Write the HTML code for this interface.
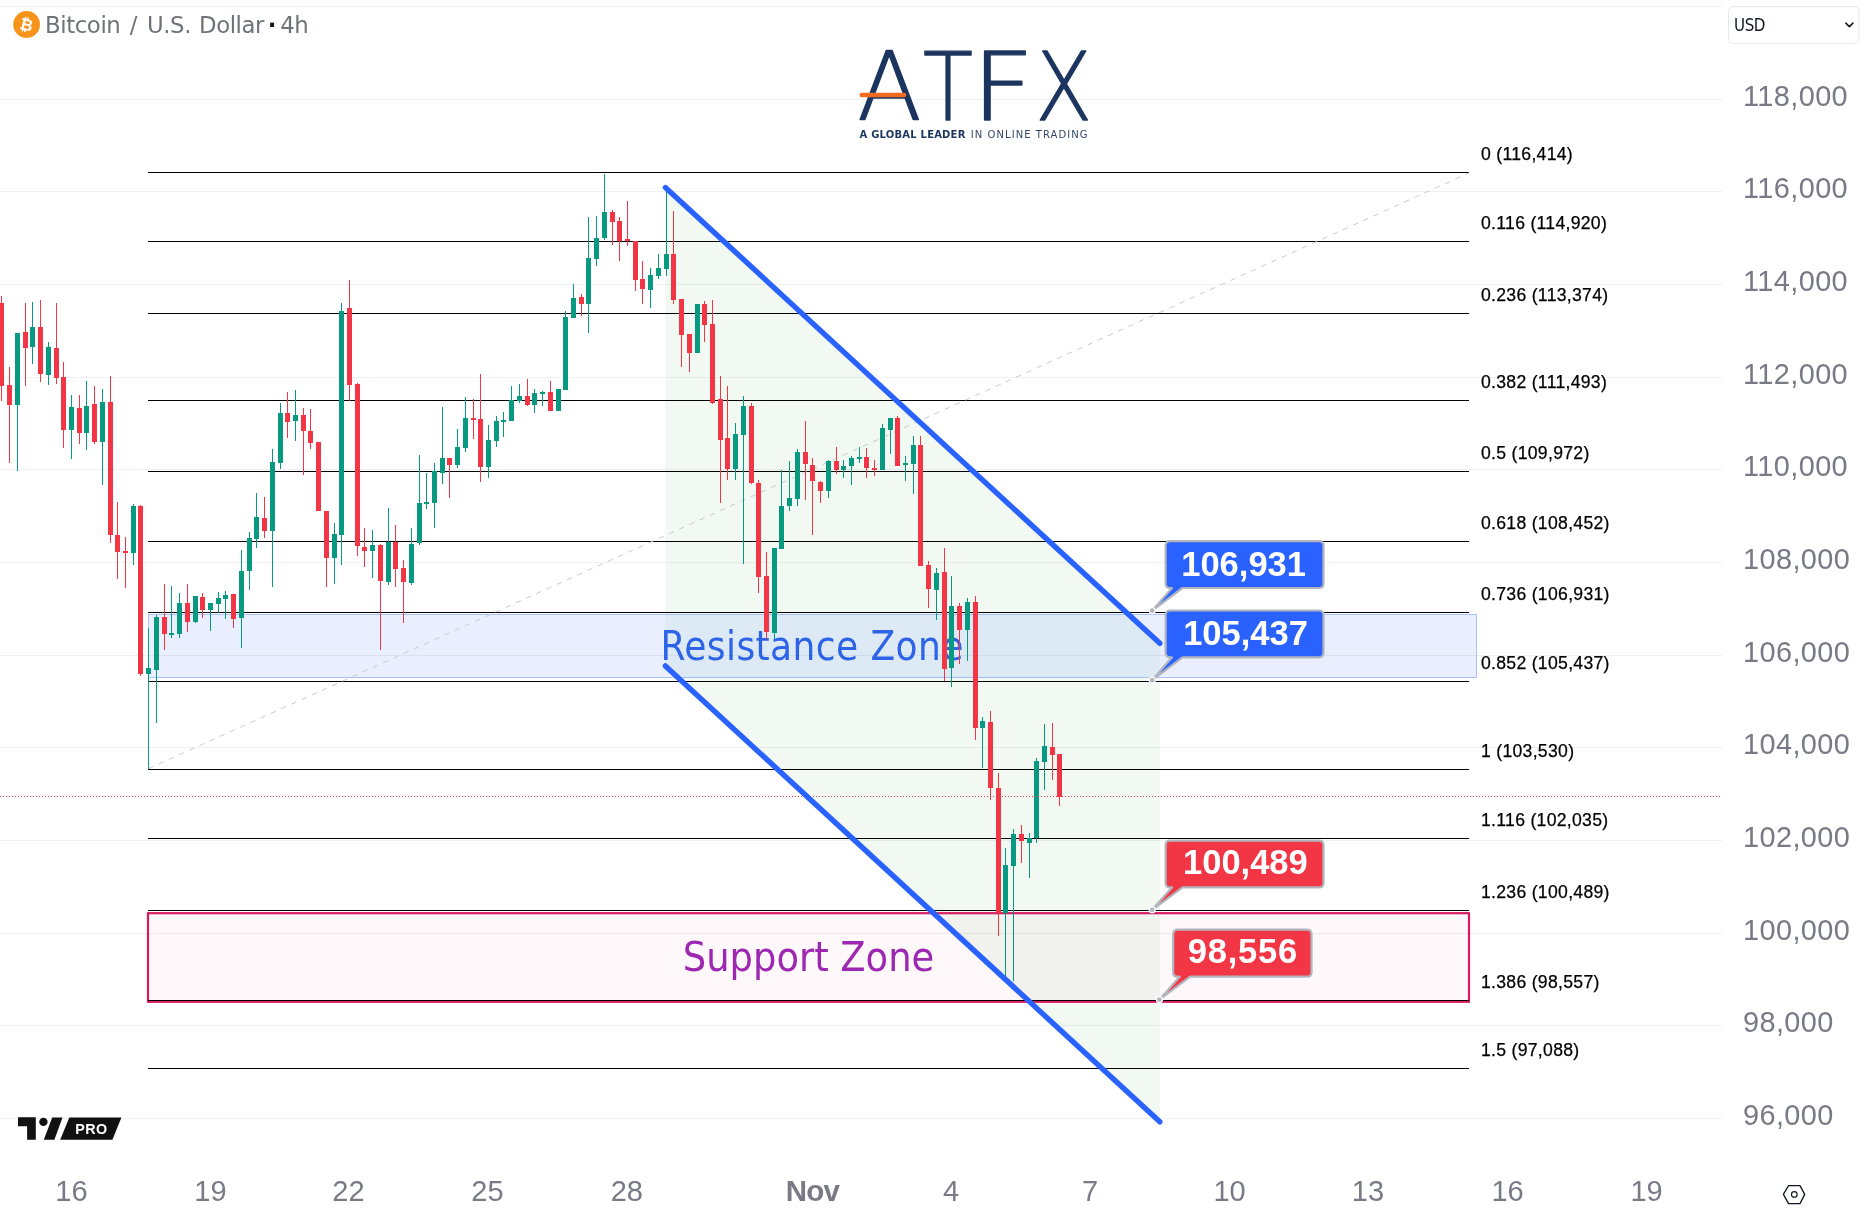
<!DOCTYPE html>
<html><head><meta charset="utf-8"><title>BTCUSD 4h</title>
<style>html,body{margin:0;padding:0;background:#fff;}svg{display:block;}</style></head>
<body><svg width="1863" height="1224" viewBox="0 0 1863 1224" style="will-change:transform">
<rect width="1863" height="1224" fill="#fff"/>
<rect x="0" y="1118" width="1722" height="1" fill="#eff0f2"/>
<rect x="0" y="1025" width="1722" height="1" fill="#eff0f2"/>
<rect x="0" y="933" width="1722" height="1" fill="#eff0f2"/>
<rect x="0" y="840" width="1722" height="1" fill="#eff0f2"/>
<rect x="0" y="747" width="1722" height="1" fill="#eff0f2"/>
<rect x="0" y="655" width="1722" height="1" fill="#eff0f2"/>
<rect x="0" y="562" width="1722" height="1" fill="#eff0f2"/>
<rect x="0" y="469" width="1722" height="1" fill="#eff0f2"/>
<rect x="0" y="377" width="1722" height="1" fill="#eff0f2"/>
<rect x="0" y="284" width="1722" height="1" fill="#eff0f2"/>
<rect x="0" y="191" width="1722" height="1" fill="#eff0f2"/>
<rect x="0" y="99" width="1722" height="1" fill="#eff0f2"/>
<rect x="0" y="6" width="1722" height="1" fill="#eff0f2"/>
<polygon points="665.4,187.5 1159.8,643.3 1159.8,1121.8 665.4,665.9" fill="rgba(76,175,80,0.07)"/>
<rect x="148.5" y="614.5" width="1328" height="63" fill="rgba(41,98,255,0.10)" stroke="rgba(41,98,255,0.35)" stroke-width="1"/>
<rect x="148" y="913.2" width="1321" height="88.6" fill="rgba(233,30,99,0.03)" stroke="#d81b60" stroke-width="2.2"/>
<text x="812.2" y="659.5" font-family="DejaVu Sans Condensed, DejaVu Sans, sans-serif" font-stretch="condensed" font-size="40" fill="#2d63e6" letter-spacing="0.43" text-anchor="middle">Resistance Zone</text>
<text x="808.5" y="971.2" font-family="DejaVu Sans Condensed, DejaVu Sans, sans-serif" font-stretch="condensed" font-size="41" fill="#9c27b0" text-anchor="middle">Support Zone</text>
<rect x="148" y="172" width="1321" height="1" fill="#000"/>
<rect x="148" y="241" width="1321" height="1" fill="#000"/>
<rect x="148" y="313" width="1321" height="1" fill="#000"/>
<rect x="148" y="400" width="1321" height="1" fill="#000"/>
<rect x="148" y="471" width="1321" height="1" fill="#000"/>
<rect x="148" y="541" width="1321" height="1" fill="#000"/>
<rect x="148" y="612" width="1321" height="1" fill="#000"/>
<rect x="148" y="681" width="1321" height="1" fill="#000"/>
<rect x="148" y="769" width="1321" height="1" fill="#000"/>
<rect x="148" y="838" width="1321" height="1" fill="#000"/>
<rect x="148" y="910" width="1321" height="1" fill="#000"/>
<rect x="148" y="1000" width="1321" height="1" fill="#000"/>
<rect x="148" y="1068" width="1321" height="1" fill="#000"/>
<line x1="148.4" y1="768.7" x2="1469" y2="172.9" stroke="#c8cad0" stroke-width="1" stroke-dasharray="5.4 5.8"/>
<rect x="1.0" y="296" width="1" height="105" fill="#f23645"/>
<rect x="-1.0" y="303" width="5" height="83" fill="#f23645"/>
<rect x="9.0" y="367" width="1" height="96" fill="#f23645"/>
<rect x="7.0" y="385" width="5" height="20" fill="#f23645"/>
<rect x="17.0" y="333" width="1" height="138" fill="#089981"/>
<rect x="15.0" y="333" width="5" height="72" fill="#089981"/>
<rect x="25.0" y="303" width="1" height="83" fill="#f23645"/>
<rect x="23.0" y="332" width="5" height="16" fill="#f23645"/>
<rect x="32.0" y="302" width="1" height="62" fill="#089981"/>
<rect x="30.0" y="327" width="5" height="20" fill="#089981"/>
<rect x="40.0" y="300" width="1" height="82" fill="#f23645"/>
<rect x="38.0" y="327" width="5" height="47" fill="#f23645"/>
<rect x="48.0" y="342" width="1" height="43" fill="#089981"/>
<rect x="46.0" y="347" width="5" height="28" fill="#089981"/>
<rect x="56.0" y="303" width="1" height="81" fill="#f23645"/>
<rect x="54.0" y="348" width="5" height="30" fill="#f23645"/>
<rect x="63.0" y="362" width="1" height="86" fill="#f23645"/>
<rect x="61.0" y="377" width="5" height="53" fill="#f23645"/>
<rect x="71.0" y="395" width="1" height="64" fill="#089981"/>
<rect x="69.0" y="407" width="5" height="23" fill="#089981"/>
<rect x="79.0" y="395" width="1" height="49" fill="#f23645"/>
<rect x="77.0" y="408" width="5" height="25" fill="#f23645"/>
<rect x="86.0" y="381" width="1" height="69" fill="#089981"/>
<rect x="84.0" y="406" width="5" height="27" fill="#089981"/>
<rect x="94.0" y="386" width="1" height="58" fill="#f23645"/>
<rect x="92.0" y="404" width="5" height="38" fill="#f23645"/>
<rect x="102.0" y="389" width="1" height="96" fill="#089981"/>
<rect x="100.0" y="402" width="5" height="40" fill="#089981"/>
<rect x="110.0" y="376" width="1" height="167" fill="#f23645"/>
<rect x="108.0" y="402" width="5" height="133" fill="#f23645"/>
<rect x="117.0" y="502" width="1" height="77" fill="#f23645"/>
<rect x="115.0" y="535" width="5" height="17" fill="#f23645"/>
<rect x="125.0" y="537" width="1" height="51" fill="#f23645"/>
<rect x="123.0" y="551" width="5" height="2" fill="#f23645"/>
<rect x="133.0" y="504" width="1" height="61" fill="#089981"/>
<rect x="131.0" y="506" width="5" height="47" fill="#089981"/>
<rect x="140.0" y="505" width="1" height="171" fill="#f23645"/>
<rect x="138.0" y="506" width="5" height="168" fill="#f23645"/>
<rect x="148.0" y="628" width="1" height="141" fill="#089981"/>
<rect x="146.0" y="668" width="5" height="6" fill="#089981"/>
<rect x="156.0" y="615" width="1" height="108" fill="#089981"/>
<rect x="154.0" y="617" width="5" height="53" fill="#089981"/>
<rect x="164.0" y="584" width="1" height="66" fill="#f23645"/>
<rect x="162.0" y="617" width="5" height="17" fill="#f23645"/>
<rect x="171.0" y="586" width="1" height="52" fill="#089981"/>
<rect x="169.0" y="633" width="5" height="2" fill="#089981"/>
<rect x="179.0" y="593" width="1" height="45" fill="#089981"/>
<rect x="177.0" y="603" width="5" height="31" fill="#089981"/>
<rect x="187.0" y="584" width="1" height="48" fill="#f23645"/>
<rect x="185.0" y="603" width="5" height="19" fill="#f23645"/>
<rect x="195.0" y="596" width="1" height="27" fill="#089981"/>
<rect x="193.0" y="596" width="5" height="26" fill="#089981"/>
<rect x="202.0" y="593" width="1" height="25" fill="#f23645"/>
<rect x="200.0" y="597" width="5" height="13" fill="#f23645"/>
<rect x="210.0" y="603" width="1" height="28" fill="#089981"/>
<rect x="208.0" y="603" width="5" height="7" fill="#089981"/>
<rect x="218.0" y="592" width="1" height="21" fill="#089981"/>
<rect x="216.0" y="598" width="5" height="6" fill="#089981"/>
<rect x="225.0" y="591" width="1" height="28" fill="#089981"/>
<rect x="223.0" y="595" width="5" height="4" fill="#089981"/>
<rect x="233.0" y="594" width="1" height="34" fill="#f23645"/>
<rect x="231.0" y="594" width="5" height="25" fill="#f23645"/>
<rect x="241.0" y="550" width="1" height="98" fill="#089981"/>
<rect x="239.0" y="571" width="5" height="47" fill="#089981"/>
<rect x="249.0" y="532" width="1" height="58" fill="#089981"/>
<rect x="247.0" y="538" width="5" height="33" fill="#089981"/>
<rect x="256.0" y="493" width="1" height="55" fill="#089981"/>
<rect x="254.0" y="517" width="5" height="22" fill="#089981"/>
<rect x="264.0" y="497" width="1" height="41" fill="#f23645"/>
<rect x="262.0" y="518" width="5" height="13" fill="#f23645"/>
<rect x="272.0" y="449" width="1" height="138" fill="#089981"/>
<rect x="270.0" y="462" width="5" height="69" fill="#089981"/>
<rect x="280.0" y="403" width="1" height="66" fill="#089981"/>
<rect x="278.0" y="413" width="5" height="50" fill="#089981"/>
<rect x="287.0" y="392" width="1" height="46" fill="#f23645"/>
<rect x="285.0" y="413" width="5" height="9" fill="#f23645"/>
<rect x="295.0" y="390" width="1" height="51" fill="#089981"/>
<rect x="293.0" y="415" width="5" height="6" fill="#089981"/>
<rect x="303.0" y="408" width="1" height="67" fill="#f23645"/>
<rect x="301.0" y="415" width="5" height="16" fill="#f23645"/>
<rect x="310.0" y="409" width="1" height="40" fill="#f23645"/>
<rect x="308.0" y="431" width="5" height="12" fill="#f23645"/>
<rect x="318.0" y="442" width="1" height="69" fill="#f23645"/>
<rect x="316.0" y="442" width="5" height="69" fill="#f23645"/>
<rect x="326.0" y="511" width="1" height="76" fill="#f23645"/>
<rect x="324.0" y="511" width="5" height="47" fill="#f23645"/>
<rect x="334.0" y="523" width="1" height="61" fill="#089981"/>
<rect x="332.0" y="534" width="5" height="24" fill="#089981"/>
<rect x="341.0" y="303" width="1" height="262" fill="#089981"/>
<rect x="339.0" y="311" width="5" height="224" fill="#089981"/>
<rect x="349.0" y="280" width="1" height="121" fill="#f23645"/>
<rect x="347.0" y="308" width="5" height="77" fill="#f23645"/>
<rect x="357.0" y="383" width="1" height="173" fill="#f23645"/>
<rect x="355.0" y="384" width="5" height="162" fill="#f23645"/>
<rect x="364.0" y="528" width="1" height="39" fill="#f23645"/>
<rect x="362.0" y="547" width="5" height="4" fill="#f23645"/>
<rect x="372.0" y="530" width="1" height="48" fill="#089981"/>
<rect x="370.0" y="545" width="5" height="6" fill="#089981"/>
<rect x="380.0" y="544" width="1" height="106" fill="#f23645"/>
<rect x="378.0" y="545" width="5" height="36" fill="#f23645"/>
<rect x="388.0" y="508" width="1" height="77" fill="#089981"/>
<rect x="386.0" y="542" width="5" height="40" fill="#089981"/>
<rect x="395.0" y="525" width="1" height="62" fill="#f23645"/>
<rect x="393.0" y="542" width="5" height="27" fill="#f23645"/>
<rect x="403.0" y="560" width="1" height="63" fill="#f23645"/>
<rect x="401.0" y="568" width="5" height="14" fill="#f23645"/>
<rect x="411.0" y="528" width="1" height="57" fill="#089981"/>
<rect x="409.0" y="544" width="5" height="39" fill="#089981"/>
<rect x="419.0" y="455" width="1" height="90" fill="#089981"/>
<rect x="417.0" y="503" width="5" height="40" fill="#089981"/>
<rect x="426.0" y="473" width="1" height="36" fill="#089981"/>
<rect x="424.0" y="502" width="5" height="2" fill="#089981"/>
<rect x="434.0" y="463" width="1" height="65" fill="#089981"/>
<rect x="432.0" y="471" width="5" height="32" fill="#089981"/>
<rect x="442.0" y="407" width="1" height="77" fill="#089981"/>
<rect x="440.0" y="458" width="5" height="15" fill="#089981"/>
<rect x="449.0" y="458" width="1" height="40" fill="#f23645"/>
<rect x="447.0" y="458" width="5" height="7" fill="#f23645"/>
<rect x="457.0" y="429" width="1" height="39" fill="#089981"/>
<rect x="455.0" y="447" width="5" height="18" fill="#089981"/>
<rect x="465.0" y="397" width="1" height="55" fill="#089981"/>
<rect x="463.0" y="418" width="5" height="30" fill="#089981"/>
<rect x="473.0" y="399" width="1" height="40" fill="#f23645"/>
<rect x="471.0" y="418" width="5" height="2" fill="#f23645"/>
<rect x="480.0" y="374" width="1" height="108" fill="#f23645"/>
<rect x="478.0" y="419" width="5" height="48" fill="#f23645"/>
<rect x="488.0" y="425" width="1" height="53" fill="#089981"/>
<rect x="486.0" y="440" width="5" height="27" fill="#089981"/>
<rect x="496.0" y="416" width="1" height="31" fill="#089981"/>
<rect x="494.0" y="421" width="5" height="20" fill="#089981"/>
<rect x="503.0" y="412" width="1" height="25" fill="#089981"/>
<rect x="501.0" y="420" width="5" height="2" fill="#089981"/>
<rect x="511.0" y="386" width="1" height="35" fill="#089981"/>
<rect x="509.0" y="400" width="5" height="21" fill="#089981"/>
<rect x="519.0" y="384" width="1" height="19" fill="#089981"/>
<rect x="517.0" y="396" width="5" height="5" fill="#089981"/>
<rect x="527.0" y="379" width="1" height="27" fill="#f23645"/>
<rect x="525.0" y="396" width="5" height="9" fill="#f23645"/>
<rect x="534.0" y="389" width="1" height="24" fill="#089981"/>
<rect x="532.0" y="393" width="5" height="12" fill="#089981"/>
<rect x="542.0" y="391" width="1" height="15" fill="#089981"/>
<rect x="540.0" y="392" width="5" height="2" fill="#089981"/>
<rect x="550.0" y="381" width="1" height="30" fill="#f23645"/>
<rect x="548.0" y="392" width="5" height="19" fill="#f23645"/>
<rect x="558.0" y="389" width="1" height="22" fill="#089981"/>
<rect x="556.0" y="389" width="5" height="22" fill="#089981"/>
<rect x="565.0" y="311" width="1" height="79" fill="#089981"/>
<rect x="563.0" y="317" width="5" height="73" fill="#089981"/>
<rect x="573.0" y="284" width="1" height="34" fill="#089981"/>
<rect x="571.0" y="298" width="5" height="20" fill="#089981"/>
<rect x="581.0" y="294" width="1" height="22" fill="#f23645"/>
<rect x="579.0" y="297" width="5" height="7" fill="#f23645"/>
<rect x="588.0" y="217" width="1" height="116" fill="#089981"/>
<rect x="586.0" y="258" width="5" height="46" fill="#089981"/>
<rect x="596.0" y="216" width="1" height="50" fill="#089981"/>
<rect x="594.0" y="238" width="5" height="21" fill="#089981"/>
<rect x="604.0" y="174" width="1" height="66" fill="#089981"/>
<rect x="602.0" y="212" width="5" height="26" fill="#089981"/>
<rect x="612.0" y="210" width="1" height="35" fill="#f23645"/>
<rect x="610.0" y="212" width="5" height="10" fill="#f23645"/>
<rect x="619.0" y="217" width="1" height="44" fill="#f23645"/>
<rect x="617.0" y="221" width="5" height="20" fill="#f23645"/>
<rect x="627.0" y="201" width="1" height="45" fill="#f23645"/>
<rect x="625.0" y="239" width="5" height="2" fill="#f23645"/>
<rect x="635.0" y="241" width="1" height="50" fill="#f23645"/>
<rect x="633.0" y="241" width="5" height="39" fill="#f23645"/>
<rect x="642.0" y="261" width="1" height="43" fill="#f23645"/>
<rect x="640.0" y="279" width="5" height="10" fill="#f23645"/>
<rect x="650.0" y="268" width="1" height="40" fill="#089981"/>
<rect x="648.0" y="275" width="5" height="15" fill="#089981"/>
<rect x="658.0" y="254" width="1" height="25" fill="#089981"/>
<rect x="656.0" y="268" width="5" height="8" fill="#089981"/>
<rect x="666.0" y="188" width="1" height="88" fill="#089981"/>
<rect x="664.0" y="254" width="5" height="15" fill="#089981"/>
<rect x="673.0" y="211" width="1" height="93" fill="#f23645"/>
<rect x="671.0" y="254" width="5" height="46" fill="#f23645"/>
<rect x="681.0" y="299" width="1" height="68" fill="#f23645"/>
<rect x="679.0" y="299" width="5" height="36" fill="#f23645"/>
<rect x="689.0" y="334" width="1" height="38" fill="#f23645"/>
<rect x="687.0" y="334" width="5" height="19" fill="#f23645"/>
<rect x="697.0" y="304" width="1" height="49" fill="#089981"/>
<rect x="695.0" y="304" width="5" height="49" fill="#089981"/>
<rect x="704.0" y="301" width="1" height="41" fill="#f23645"/>
<rect x="702.0" y="304" width="5" height="21" fill="#f23645"/>
<rect x="712.0" y="300" width="1" height="104" fill="#f23645"/>
<rect x="710.0" y="324" width="5" height="79" fill="#f23645"/>
<rect x="720.0" y="376" width="1" height="127" fill="#f23645"/>
<rect x="718.0" y="399" width="5" height="41" fill="#f23645"/>
<rect x="727.0" y="386" width="1" height="94" fill="#f23645"/>
<rect x="725.0" y="438" width="5" height="31" fill="#f23645"/>
<rect x="735.0" y="423" width="1" height="57" fill="#089981"/>
<rect x="733.0" y="434" width="5" height="35" fill="#089981"/>
<rect x="743.0" y="396" width="1" height="168" fill="#089981"/>
<rect x="741.0" y="406" width="5" height="29" fill="#089981"/>
<rect x="751.0" y="403" width="1" height="81" fill="#f23645"/>
<rect x="749.0" y="406" width="5" height="77" fill="#f23645"/>
<rect x="758.0" y="480" width="1" height="113" fill="#f23645"/>
<rect x="756.0" y="483" width="5" height="94" fill="#f23645"/>
<rect x="766.0" y="552" width="1" height="87" fill="#f23645"/>
<rect x="764.0" y="576" width="5" height="56" fill="#f23645"/>
<rect x="774.0" y="548" width="1" height="91" fill="#089981"/>
<rect x="772.0" y="548" width="5" height="85" fill="#089981"/>
<rect x="781.0" y="470" width="1" height="79" fill="#089981"/>
<rect x="779.0" y="506" width="5" height="43" fill="#089981"/>
<rect x="789.0" y="461" width="1" height="50" fill="#089981"/>
<rect x="787.0" y="498" width="5" height="8" fill="#089981"/>
<rect x="797.0" y="449" width="1" height="57" fill="#089981"/>
<rect x="795.0" y="452" width="5" height="47" fill="#089981"/>
<rect x="805.0" y="421" width="1" height="79" fill="#f23645"/>
<rect x="803.0" y="452" width="5" height="12" fill="#f23645"/>
<rect x="812.0" y="458" width="1" height="77" fill="#f23645"/>
<rect x="810.0" y="465" width="5" height="16" fill="#f23645"/>
<rect x="820.0" y="481" width="1" height="22" fill="#f23645"/>
<rect x="818.0" y="482" width="5" height="9" fill="#f23645"/>
<rect x="828.0" y="460" width="1" height="38" fill="#089981"/>
<rect x="826.0" y="461" width="5" height="30" fill="#089981"/>
<rect x="836.0" y="447" width="1" height="27" fill="#f23645"/>
<rect x="834.0" y="461" width="5" height="9" fill="#f23645"/>
<rect x="843.0" y="460" width="1" height="18" fill="#089981"/>
<rect x="841.0" y="466" width="5" height="4" fill="#089981"/>
<rect x="851.0" y="456" width="1" height="29" fill="#089981"/>
<rect x="849.0" y="458" width="5" height="8" fill="#089981"/>
<rect x="859.0" y="447" width="1" height="16" fill="#089981"/>
<rect x="857.0" y="457" width="5" height="2" fill="#089981"/>
<rect x="866.0" y="448" width="1" height="30" fill="#f23645"/>
<rect x="864.0" y="457" width="5" height="11" fill="#f23645"/>
<rect x="874.0" y="460" width="1" height="16" fill="#f23645"/>
<rect x="872.0" y="468" width="5" height="2" fill="#f23645"/>
<rect x="882.0" y="424" width="1" height="46" fill="#089981"/>
<rect x="880.0" y="428" width="5" height="42" fill="#089981"/>
<rect x="890.0" y="418" width="1" height="36" fill="#089981"/>
<rect x="888.0" y="418" width="5" height="12" fill="#089981"/>
<rect x="897.0" y="416" width="1" height="50" fill="#f23645"/>
<rect x="895.0" y="418" width="5" height="48" fill="#f23645"/>
<rect x="905.0" y="456" width="1" height="25" fill="#089981"/>
<rect x="903.0" y="463" width="5" height="2" fill="#089981"/>
<rect x="913.0" y="436" width="1" height="58" fill="#089981"/>
<rect x="911.0" y="445" width="5" height="19" fill="#089981"/>
<rect x="920.0" y="436" width="1" height="130" fill="#f23645"/>
<rect x="918.0" y="445" width="5" height="121" fill="#f23645"/>
<rect x="928.0" y="561" width="1" height="47" fill="#f23645"/>
<rect x="926.0" y="565" width="5" height="24" fill="#f23645"/>
<rect x="936.0" y="568" width="1" height="52" fill="#089981"/>
<rect x="934.0" y="573" width="5" height="17" fill="#089981"/>
<rect x="944.0" y="548" width="1" height="133" fill="#f23645"/>
<rect x="942.0" y="572" width="5" height="97" fill="#f23645"/>
<rect x="951.0" y="576" width="1" height="111" fill="#089981"/>
<rect x="949.0" y="606" width="5" height="62" fill="#089981"/>
<rect x="959.0" y="603" width="1" height="61" fill="#f23645"/>
<rect x="957.0" y="606" width="5" height="24" fill="#f23645"/>
<rect x="967.0" y="598" width="1" height="63" fill="#089981"/>
<rect x="965.0" y="602" width="5" height="28" fill="#089981"/>
<rect x="975.0" y="596" width="1" height="144" fill="#f23645"/>
<rect x="973.0" y="602" width="5" height="126" fill="#f23645"/>
<rect x="982.0" y="717" width="1" height="51" fill="#089981"/>
<rect x="980.0" y="721" width="5" height="7" fill="#089981"/>
<rect x="990.0" y="711" width="1" height="89" fill="#f23645"/>
<rect x="988.0" y="722" width="5" height="66" fill="#f23645"/>
<rect x="998.0" y="773" width="1" height="163" fill="#f23645"/>
<rect x="996.0" y="788" width="5" height="125" fill="#f23645"/>
<rect x="1005.0" y="848" width="1" height="135" fill="#089981"/>
<rect x="1003.0" y="865" width="5" height="48" fill="#089981"/>
<rect x="1013.0" y="829" width="1" height="152" fill="#089981"/>
<rect x="1011.0" y="834" width="5" height="32" fill="#089981"/>
<rect x="1021.0" y="825" width="1" height="38" fill="#f23645"/>
<rect x="1019.0" y="834" width="5" height="7" fill="#f23645"/>
<rect x="1029.0" y="833" width="1" height="45" fill="#089981"/>
<rect x="1027.0" y="838" width="5" height="5" fill="#089981"/>
<rect x="1036.0" y="758" width="1" height="85" fill="#089981"/>
<rect x="1034.0" y="761" width="5" height="77" fill="#089981"/>
<rect x="1044.0" y="724" width="1" height="66" fill="#089981"/>
<rect x="1042.0" y="746" width="5" height="16" fill="#089981"/>
<rect x="1052.0" y="723" width="1" height="57" fill="#f23645"/>
<rect x="1050.0" y="747" width="5" height="8" fill="#f23645"/>
<rect x="1059.0" y="754" width="1" height="52" fill="#f23645"/>
<rect x="1057.0" y="754" width="5" height="43" fill="#f23645"/>
<line x1="0" y1="796.5" x2="1722" y2="796.5" stroke="#f23645" stroke-width="1" stroke-dasharray="1 2"/>
<line x1="665.4" y1="187.5" x2="1159.8" y2="643.3" stroke="#2962ff" stroke-width="5.4" stroke-linecap="round"/>
<line x1="665.4" y1="665.9" x2="1159.8" y2="1121.8" stroke="#2962ff" stroke-width="5.4" stroke-linecap="round"/>
<path d="M1170.1,541.2 H1319.0 Q1323.5,541.2 1323.5,545.7 V583.5 Q1323.5,588.0 1319.0,588.0 H1182.5 L1152.2,610.6 L1172.0,588.0 H1170.1 Q1165.6,588.0 1165.6,583.5 V545.7 Q1165.6,541.2 1170.1,541.2 Z" fill="#2962ff" stroke="#b2b5be" stroke-width="2.2" stroke-linejoin="round"/>
<circle cx="1152.2" cy="610.6" r="3" fill="#b2b5be" stroke="#fff" stroke-width="1.2"/>
<text x="1243.6" y="575.8" font-family="Liberation Sans, sans-serif" font-weight="bold" font-size="34.5" letter-spacing="0" fill="#fff" text-anchor="middle">106,931</text>
<path d="M1170.1,610.5 H1319.0 Q1323.5,610.5 1323.5,615.0 V652.8 Q1323.5,657.3 1319.0,657.3 H1182.5 L1152.2,680.2 L1172.0,657.3 H1170.1 Q1165.6,657.3 1165.6,652.8 V615.0 Q1165.6,610.5 1170.1,610.5 Z" fill="#2962ff" stroke="#b2b5be" stroke-width="2.2" stroke-linejoin="round"/>
<circle cx="1152.2" cy="680.2" r="3" fill="#b2b5be" stroke="#fff" stroke-width="1.2"/>
<text x="1245.5" y="645" font-family="Liberation Sans, sans-serif" font-weight="bold" font-size="34.5" letter-spacing="0" fill="#fff" text-anchor="middle">105,437</text>
<path d="M1170.1,840.7 H1319.0 Q1323.5,840.7 1323.5,845.2 V882.9 Q1323.5,887.4 1319.0,887.4 H1182.5 L1152.2,909.8 L1172.0,887.4 H1170.1 Q1165.6,887.4 1165.6,882.9 V845.2 Q1165.6,840.7 1170.1,840.7 Z" fill="#f23645" stroke="#b2b5be" stroke-width="2.2" stroke-linejoin="round"/>
<circle cx="1152.2" cy="909.8" r="3" fill="#b2b5be" stroke="#fff" stroke-width="1.2"/>
<text x="1245.4" y="874.3" font-family="Liberation Sans, sans-serif" font-weight="bold" font-size="34.5" letter-spacing="0" fill="#fff" text-anchor="middle">100,489</text>
<path d="M1177.6999999999998,929.7 H1307.0 Q1311.5,929.7 1311.5,934.2 V972.1999999999999 Q1311.5,976.6999999999999 1307.0,976.6999999999999 H1190.1 L1159.4,999.7 L1179.6,976.6999999999999 H1177.6999999999998 Q1173.1999999999998,976.6999999999999 1173.1999999999998,972.1999999999999 V934.2 Q1173.1999999999998,929.7 1177.6999999999998,929.7 Z" fill="#f23645" stroke="#b2b5be" stroke-width="2.2" stroke-linejoin="round"/>
<circle cx="1159.4" cy="999.7" r="3" fill="#b2b5be" stroke="#fff" stroke-width="1.2"/>
<text x="1242.9" y="963.3" font-family="Liberation Sans, sans-serif" font-weight="bold" font-size="34.5" letter-spacing="0.8" fill="#fff" text-anchor="middle">98,556</text>
<text x="1481" y="159.5" font-family="Liberation Sans, sans-serif" font-size="17.6" letter-spacing="0.3" fill="#000" stroke="#000" stroke-width="0.25">0 (116,414)</text>
<text x="1481" y="228.5" font-family="Liberation Sans, sans-serif" font-size="17.6" letter-spacing="0.3" fill="#000" stroke="#000" stroke-width="0.25">0.116 (114,920)</text>
<text x="1481" y="300.5" font-family="Liberation Sans, sans-serif" font-size="17.6" letter-spacing="0.3" fill="#000" stroke="#000" stroke-width="0.25">0.236 (113,374)</text>
<text x="1481" y="387.5" font-family="Liberation Sans, sans-serif" font-size="17.6" letter-spacing="0.3" fill="#000" stroke="#000" stroke-width="0.25">0.382 (111,493)</text>
<text x="1481" y="458.5" font-family="Liberation Sans, sans-serif" font-size="17.6" letter-spacing="0.3" fill="#000" stroke="#000" stroke-width="0.25">0.5 (109,972)</text>
<text x="1481" y="528.5" font-family="Liberation Sans, sans-serif" font-size="17.6" letter-spacing="0.3" fill="#000" stroke="#000" stroke-width="0.25">0.618 (108,452)</text>
<text x="1481" y="599.5" font-family="Liberation Sans, sans-serif" font-size="17.6" letter-spacing="0.3" fill="#000" stroke="#000" stroke-width="0.25">0.736 (106,931)</text>
<text x="1481" y="668.5" font-family="Liberation Sans, sans-serif" font-size="17.6" letter-spacing="0.3" fill="#000" stroke="#000" stroke-width="0.25">0.852 (105,437)</text>
<text x="1481" y="756.5" font-family="Liberation Sans, sans-serif" font-size="17.6" letter-spacing="0.3" fill="#000" stroke="#000" stroke-width="0.25">1 (103,530)</text>
<text x="1481" y="825.5" font-family="Liberation Sans, sans-serif" font-size="17.6" letter-spacing="0.3" fill="#000" stroke="#000" stroke-width="0.25">1.116 (102,035)</text>
<text x="1481" y="897.5" font-family="Liberation Sans, sans-serif" font-size="17.6" letter-spacing="0.3" fill="#000" stroke="#000" stroke-width="0.25">1.236 (100,489)</text>
<text x="1481" y="987.5" font-family="Liberation Sans, sans-serif" font-size="17.6" letter-spacing="0.3" fill="#000" stroke="#000" stroke-width="0.25">1.386 (98,557)</text>
<text x="1481" y="1055.5" font-family="Liberation Sans, sans-serif" font-size="17.6" letter-spacing="0.3" fill="#000" stroke="#000" stroke-width="0.25">1.5 (97,088)</text>
<text x="1743" y="1124.8" font-family="Liberation Sans, sans-serif" font-size="28.9" letter-spacing="0.4" fill="#787b86">96,000</text>
<text x="1743" y="1031.8" font-family="Liberation Sans, sans-serif" font-size="28.9" letter-spacing="0.4" fill="#787b86">98,000</text>
<text x="1743" y="939.8" font-family="Liberation Sans, sans-serif" font-size="28.9" letter-spacing="0.4" fill="#787b86">100,000</text>
<text x="1743" y="846.8" font-family="Liberation Sans, sans-serif" font-size="28.9" letter-spacing="0.4" fill="#787b86">102,000</text>
<text x="1743" y="753.8" font-family="Liberation Sans, sans-serif" font-size="28.9" letter-spacing="0.4" fill="#787b86">104,000</text>
<text x="1743" y="661.8" font-family="Liberation Sans, sans-serif" font-size="28.9" letter-spacing="0.4" fill="#787b86">106,000</text>
<text x="1743" y="568.8" font-family="Liberation Sans, sans-serif" font-size="28.9" letter-spacing="0.4" fill="#787b86">108,000</text>
<text x="1743" y="475.8" font-family="Liberation Sans, sans-serif" font-size="28.9" letter-spacing="0.4" fill="#787b86">110,000</text>
<text x="1743" y="383.8" font-family="Liberation Sans, sans-serif" font-size="28.9" letter-spacing="0.4" fill="#787b86">112,000</text>
<text x="1743" y="290.8" font-family="Liberation Sans, sans-serif" font-size="28.9" letter-spacing="0.4" fill="#787b86">114,000</text>
<text x="1743" y="197.8" font-family="Liberation Sans, sans-serif" font-size="28.9" letter-spacing="0.4" fill="#787b86">116,000</text>
<text x="1743" y="105.8" font-family="Liberation Sans, sans-serif" font-size="28.9" letter-spacing="0.4" fill="#787b86">118,000</text>
<text x="71.4" y="1200.9" font-family="Liberation Sans, sans-serif" font-size="29" letter-spacing="0" fill="#787b86" text-anchor="middle">16</text>
<text x="210.4" y="1200.9" font-family="Liberation Sans, sans-serif" font-size="29" letter-spacing="0" fill="#787b86" text-anchor="middle">19</text>
<text x="348.4" y="1200.9" font-family="Liberation Sans, sans-serif" font-size="29" letter-spacing="0" fill="#787b86" text-anchor="middle">22</text>
<text x="487.4" y="1200.9" font-family="Liberation Sans, sans-serif" font-size="29" letter-spacing="0" fill="#787b86" text-anchor="middle">25</text>
<text x="626.8" y="1200.9" font-family="Liberation Sans, sans-serif" font-size="29" letter-spacing="0" fill="#787b86" text-anchor="middle">28</text>
<text x="812.5" y="1200.9" font-family="Liberation Sans, sans-serif" font-size="29.5" font-weight="bold" letter-spacing="-0.8" fill="#787b86" text-anchor="middle">Nov</text>
<text x="951" y="1200.9" font-family="Liberation Sans, sans-serif" font-size="29" letter-spacing="0" fill="#787b86" text-anchor="middle">4</text>
<text x="1090" y="1200.9" font-family="Liberation Sans, sans-serif" font-size="29" letter-spacing="0" fill="#787b86" text-anchor="middle">7</text>
<text x="1229.6" y="1200.9" font-family="Liberation Sans, sans-serif" font-size="29" letter-spacing="0" fill="#787b86" text-anchor="middle">10</text>
<text x="1368" y="1200.9" font-family="Liberation Sans, sans-serif" font-size="29" letter-spacing="0" fill="#787b86" text-anchor="middle">13</text>
<text x="1507.6" y="1200.9" font-family="Liberation Sans, sans-serif" font-size="29" letter-spacing="0" fill="#787b86" text-anchor="middle">16</text>
<text x="1646.6" y="1200.9" font-family="Liberation Sans, sans-serif" font-size="29" letter-spacing="0" fill="#787b86" text-anchor="middle">19</text>
<polygon points="1783.4,1194.4 1788.6,1185.6 1800,1185.6 1804.7,1194.4 1800,1203.6 1788.6,1203.6" fill="none" stroke="#131722" stroke-width="1.3" stroke-linejoin="round"/>
<circle cx="1794.3" cy="1194.4" r="2.8" fill="none" stroke="#131722" stroke-width="1.2"/>
<g fill="#111"><path d="M18,1117.3 H35.8 V1139.8 H27.1 V1126.3 H18 Z"/><circle cx="43.4" cy="1121.9" r="4.2"/><polygon points="52.2,1117.6 62.5,1117.6 54.4,1139.8 43.8,1139.8"/><polygon points="69.3,1117.6 121.4,1117.6 112.4,1139.8 60.2,1139.8"/></g>
<text x="91.5" y="1133.7" font-family="Liberation Sans, sans-serif" font-weight="bold" font-size="14.3" fill="#fff" text-anchor="middle" letter-spacing="0.5">PRO</text>
<circle cx="26.6" cy="24.4" r="13.4" fill="#f7931a"/>
<text x="26.6" y="30.3" font-family="DejaVu Sans, sans-serif" font-weight="bold" font-size="16" fill="#fff" text-anchor="middle" transform="rotate(14 26.4 24.4)">₿</text>
<text x="45" y="32.7" font-family="DejaVu Sans, sans-serif" font-size="22.8" letter-spacing="-0.4" fill="#707279">Bitcoin <tspan dx="2.6">/</tspan> <tspan dx="3">U.S.</tspan> <tspan dx="1.1">Dollar</tspan> <tspan dx="-3.3" fill="#131722" font-weight="bold">·</tspan> <tspan dx="-2.6">4h</tspan></text>
<rect x="1728.5" y="6.5" width="130.5" height="37" rx="5" fill="#fff" stroke="#e6e8ee" stroke-width="1"/>
<text x="1734" y="30.8" font-family="DejaVu Sans Condensed, DejaVu Sans, sans-serif" font-stretch="condensed" font-size="16.8" letter-spacing="-0.4" fill="#131722">USD</text>
<polyline points="1845.8,23.2 1849.4,26.6 1853,23.2" fill="none" stroke="#131722" stroke-width="1.6" stroke-linecap="round" stroke-linejoin="round"/>
<text x="0" y="120.2" transform="translate(857.3,0) scale(1.0,1)" font-family="DejaVu Sans, sans-serif" font-weight="200" font-size="94" fill="#1c355e" stroke="#1c355e" stroke-width="1.3" stroke-linejoin="round">A</text>
<text x="0" y="120.2" transform="translate(923.0,0) scale(0.87,1)" font-family="DejaVu Sans, sans-serif" font-weight="200" font-size="94" fill="#1c355e" stroke="#1c355e" stroke-width="1.3" stroke-linejoin="round">T</text>
<text x="0" y="120.2" transform="translate(971.36,0) scale(1.167,1)" font-family="DejaVu Sans, sans-serif" font-weight="200" font-size="94" fill="#1c355e" stroke="#1c355e" stroke-width="1.3" stroke-linejoin="round">F</text>
<text x="0" y="120.2" transform="translate(1035.3,0) scale(0.885,1)" font-family="DejaVu Sans, sans-serif" font-weight="200" font-size="94" fill="#1c355e" stroke="#1c355e" stroke-width="1.3" stroke-linejoin="round">X</text>
<line x1="861.8" y1="95" x2="904" y2="95" stroke="#f26b21" stroke-width="4.6" stroke-linecap="round"/>
<text x="859.6" y="138" font-family="DejaVu Sans, sans-serif" font-weight="bold" font-size="10" fill="#1c355e" letter-spacing="0.2">A GLOBAL LEADER</text>
<text x="970.8" y="138" font-family="DejaVu Sans, sans-serif" font-size="10" fill="#33466a" letter-spacing="1.05">IN ONLINE TRADING</text>
</svg></body></html>
